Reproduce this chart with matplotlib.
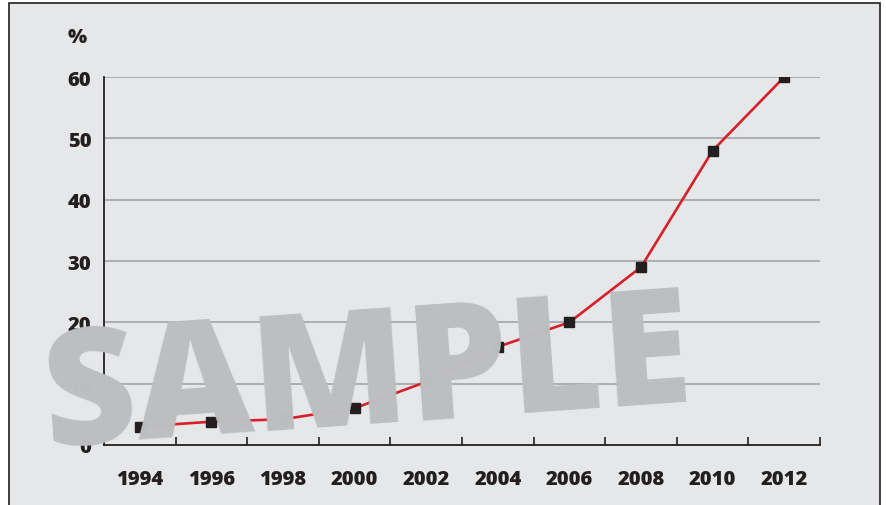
import matplotlib
matplotlib.use("Agg")
import matplotlib.pyplot as plt
from matplotlib.patches import Rectangle
import numpy as np

# data
years = ['1994', '1996', '1998', '2000', '2002', '2004', '2006', '2008', '2010', '2012']
share = [3, 3.8, 4.2, 6, 10.3, 16, 20, 29, 48, 60]
y_ticks = [0, 10, 20, 30, 40, 50, 60]

bg = '#e6e7e8'
dark = '#231f20'
red = '#d7202a'
grid_grey = '#a7a9ac'

plt.rcParams['font.family'] = ['Open Sans', 'DejaVu Sans']

fig = plt.figure(figsize=(8.87, 5.06), dpi=100, facecolor='white')
# grey panel with black frame, drawn behind the axes
panel = Rectangle((9 / 887, -0.05), 871 / 887, 1 - 4 / 506 + 0.05,
                  transform=fig.transFigure, facecolor=bg,
                  edgecolor=dark, linewidth=1.2, zorder=-5)
fig.patches.append(panel)

ax = fig.add_axes([104 / 887, 1 - 446 / 506, 716 / 887, 368 / 506])
ax.set_zorder(1)
ax.set_facecolor('none')

x = np.arange(len(years))
ax.plot(x, share, color=red, linewidth=1.9, zorder=3)
ax.plot(x, share, linestyle='none', marker='s', markersize=7,
        color=dark, zorder=4)

ax.set_xlim(-0.5, len(years) - 0.5)
ax.set_ylim(0, 60)

for v in y_ticks[1:]:
    ax.axhline(v, color=grid_grey, linewidth=1.3, zorder=1)

for s in ['top', 'right']:
    ax.spines[s].set_visible(False)
for s in ['left', 'bottom']:
    ax.spines[s].set_color(dark)
    ax.spines[s].set_linewidth(1.3)

ax.set_xticks(x)
ax.set_xticklabels(years, fontsize=14.5, fontweight='heavy', color=dark)
ax.set_xticks(np.arange(-0.5, len(years)), minor=True)
ax.tick_params(axis='x', which='major', length=0, pad=17)
ax.tick_params(axis='x', which='minor', direction='in', length=6,
               width=1.2, color=dark)

ax.set_yticks(y_ticks)
ax.set_yticklabels([str(v) for v in y_ticks], fontsize=14.5,
                   fontweight='heavy', color=dark)
ax.tick_params(axis='y', length=0, pad=9)

fig.text(77 / 887, 1 - 38 / 506, '%', fontsize=14.5, fontweight='heavy',
         color=dark, ha='center', va='center')

# watermark on top of everything
fig.text(368 / 887, 1 - 381 / 506, 'SAMPLE', fontsize=116, fontweight='heavy',
         color='#bcbec0', ha='center', va='center', rotation=4,
         rotation_mode='anchor', zorder=10)

fig.savefig('out.png', dpi=100, facecolor='white')
